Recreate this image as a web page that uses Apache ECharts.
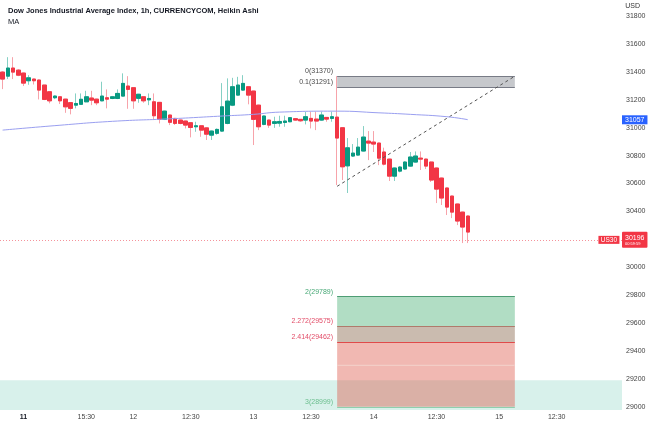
<!DOCTYPE html>
<html><head><meta charset="utf-8">
<script src="https://cdn.jsdelivr.net/npm/echarts@6/dist/echarts.min.js"></script>
<style>html,body{margin:0;padding:0;background:#fff}#c{width:650px;height:424px}</style>
</head><body><div id="c"></div><script>
// ---- data ----
const slotCount = 119;
const tickSlots = [4, 16, 25, 36, 48, 59, 71, 83, 95, 106];
const tickTexts = ['11', '15:30', '12', '12:30', '13', '12:30', '14', '12:30', '15', '12:30'];
const yTicks = [29000, 29200, 29400, 29600, 29800, 30000, 30400, 30600, 30800, 31000, 31200, 31400, 31600, 31800];
const yMin = 28976, yMax = 31916;

const opens = [31399,31370,31428,31413,31392,31337,31349,31342,31306,31258,31215,31222,31205,31180,31162,31168,31186,31213,31205,31193,31215,31210,31210,31227,31299,31287,31211,31222,31200,31186,31182,31060,31091,31067,31055,31048,31036,31007,31014,30999,30947,30960,30976,31031,31162,31234,31270,31294,31263,31162,31024,31055,31031,31033,31038,31043,31065,31060,31055,31067,31062,31055,31074,31067,31076,31000,30727,30797,30804,30833,30904,30897,30890,30826,30775,30653,30689,30704,30725,30754,30782,30775,30754,30711,30639,30568,30510,30453,30395,30367];
const closes = [31349,31428,31399,31377,31320,31358,31337,31270,31203,31193,31227,31193,31150,31139,31174,31204,31222,31198,31179,31227,31205,31222,31246,31318,31275,31193,31240,31193,31210,31086,31060,31119,31039,31031,31031,31019,31002,31014,30983,30954,30976,30988,31150,31191,31294,31306,31318,31234,31060,31007,31084,31019,31043,31045,31048,31072,31055,31050,31079,31048,31048,31091,31062,31079,30926,30720,30856,30818,30861,30933,30890,30883,30782,30739,30653,30711,30718,30754,30790,30797,30775,30725,30625,30560,30496,30431,30395,30331,30288,30252];
const lows = [31277,31349,31349,31370,31299,31308,31310,31203,31198,31175,31205,31170,31107,31096,31139,31165,31183,31162,31162,31190,31139,31205,31205,31224,31136,31136,31179,31179,31162,31055,31031,31055,31019,31020,31025,30995,30931,30971,30935,30912,30912,30950,30970,31025,31155,31230,31265,31168,30876,30983,31018,30999,30999,31007,31007,31040,31050,31043,31024,30995,30983,31050,31043,31043,30589,30625,30532,30790,30800,30830,30768,30826,30732,30730,30618,30618,30680,30700,30720,30750,30697,30704,30611,30460,30446,30374,30352,30302,30173,30173];
const highs = [31405,31506,31506,31420,31395,31377,31352,31345,31306,31260,31232,31225,31207,31182,31246,31246,31265,31265,31208,31330,31275,31228,31275,31390,31370,31290,31243,31225,31246,31246,31185,31122,31094,31070,31058,31050,31038,31043,31016,31002,30980,30995,31320,31354,31358,31365,31377,31297,31265,31165,31087,31058,31079,31086,31086,31076,31068,31062,31115,31115,31115,31115,31076,31115,31370,31003,30926,30883,30926,31012,30976,30976,30893,30857,30778,30715,30725,30760,30826,30830,30830,30778,30757,30714,30642,30570,30512,30455,30398,30370];

// moving average readings (null = not read at that candle)
const maIdx = [0, 10, 21, 32, 42, 48, 53, 64, 72, 78, 85, 89];
const maVal = [30983, 31015, 31046, 31064, 31084, 31096, 31112, 31119, 31107, 31096, 31079, 31058];

const lastPrice = 30196;
const maLast = 31057;
const zoneTop = 29190;

const fibFrom = 64, fibTo = 98;
const fibLow = 30580, fibHigh = 31370;
const fibPrices = [31370, 31291, 29789, 29575, 29462, 29300, 28999];
const fibTexts = ['0(31370)', '0.1(31291)', '2(29789)', '2.272(29575)', '2.414(29462)', '', '3(28999)'];

// ---- build ----
const FONT = 'Liberation Sans, Arial, sans-serif';
const categories = Array.from({length: slotCount}, (_, i) => 's' + i);
const tickMap = {};
tickSlots.forEach((s, k) => tickMap[s] = tickTexts[k]);

const candleData = opens.map((o, i) => [o, closes[i], lows[i], highs[i]]);
const bodyData = opens.map((o, i) => [o, closes[i], Math.min(o, closes[i]), Math.max(o, closes[i])]);
const maData = new Array(opens.length).fill(null);
maIdx.forEach((ix, k) => maData[ix] = maVal[k]);

const fibLineColors = ['#787b86', '#787b86', '#4e9d74', '#b07a6c', '#e04a4a', '#f3cdc6', '#8fcfae'];
const fibLabelColors = ['#4a4a4a', '#4a4a4a', '#47a876', '#e24d68', '#e24d68', '#e24d68', '#6cbf8f'];
const fibFills = ['rgba(120,123,134,0.42)', null, 'rgba(70,175,115,0.42)', 'rgba(150,120,95,0.5)', 'rgba(222,85,72,0.42)', 'rgba(222,85,72,0.42)'];

const fibAreas = [];
for (let i = 0; i < fibPrices.length - 1; i++) {
  if (!fibFills[i]) continue;
  fibAreas.push([{coord: [fibFrom, fibPrices[i]], itemStyle: {color: fibFills[i]}}, {coord: [fibTo, fibPrices[i + 1]]}]);
}
const fibLines = fibPrices.map((p, i) => [
  {coord: [fibFrom, p], lineStyle: {color: fibLineColors[i], width: 1, type: 'solid'}},
  {coord: [fibTo, p]}
]);
fibLines.push([
  {coord: [fibFrom, fibLow], lineStyle: {color: '#555', width: 1, type: [3, 3]}},
  {coord: [fibTo, fibHigh]}
]);
fibLines.push([
  {yAxis: zoneTop, lineStyle: {color: '#6cc2ae', width: 1, type: 'solid'}, label: {show: false}},
  {yAxis: zoneTop, x: '100%'}
]);
const fibLabelPoints = fibPrices.map((p, i) => ({
  coord: [fibFrom, p], symbol: 'rect', symbolSize: 0.1,
  label: {show: !!fibTexts[i], formatter: fibTexts[i], position: 'left', distance: 4, offset: [0, -5],
    color: fibLabelColors[i], fontSize: 7, fontFamily: FONT}
}));

const chart = echarts.init(document.getElementById('c'), null, {renderer: 'canvas'});
chart.setOption({
  animation: false,
  backgroundColor: '#ffffff',
  title: {
    text: 'Dow Jones Industrial Average Index, 1h, CURRENCYCOM, Heikin Ashi',
    subtext: 'MA',
    left: 3, top: 2, itemGap: 3,
    textStyle: {fontSize: 7.5, fontWeight: 'bold', color: '#131722', fontFamily: FONT},
    subtextStyle: {fontSize: 7.5, color: '#131722', fontFamily: FONT}
  },
  graphic: [{type: 'text', right: 10, top: 3, style: {text: 'USD', fontSize: 7, fill: '#333', fontFamily: FONT}}],
  grid: {left: 0, right: 28, top: 0, bottom: 14},
  xAxis: {
    type: 'category', data: categories, boundaryGap: true,
    axisLine: {show: false}, axisTick: {show: false}, splitLine: {show: false},
    axisLabel: {
      interval: (i) => tickMap[i] !== undefined,
      formatter: (v, i) => (i === tickSlots[0] ? '{b|' + tickMap[i] + '}' : (tickMap[i] || '')),
      fontSize: 7, color: '#444', margin: 4, fontFamily: FONT,
      rich: {b: {fontSize: 7, fontWeight: 'bold', color: '#131722', fontFamily: FONT}}
    }
  },
  yAxis: {
    type: 'value', position: 'right', min: yMin, max: yMax,
    axisLine: {show: false}, axisTick: {show: false}, splitLine: {show: false},
    axisLabel: {customValues: yTicks, formatter: (v) => String(v), fontSize: 7, color: '#444', margin: 4, fontFamily: FONT}
  },
  series: [
    {
      name: 'zones', type: 'line', data: new Array(opens.length).fill(null), showSymbol: false, silent: true, z: 1,
      markArea: {silent: true, data: [
        [{yAxis: yMin, itemStyle: {color: '#d8f1eb'}}, {yAxis: zoneTop}]
      ].concat(fibAreas)},
      markLine: {silent: true, symbol: 'none', label: {show: false}, data: fibLines},
      markPoint: {silent: true, data: fibLabelPoints}
    },
    {
      name: 'wicks', type: 'candlestick', data: candleData, barWidth: '78%', z: 3,
      itemStyle: {color: '#86d0c4', color0: '#f7a3aa', borderColor: '#86d0c4', borderColor0: '#f7a3aa', borderWidth: 1}
    },
    {
      name: 'bodies', type: 'candlestick', data: bodyData, barWidth: '78%', z: 4,
      itemStyle: {color: '#089981', color0: '#f23645', borderColor: '#089981', borderColor0: '#f23645', borderWidth: 1},
      markLine: {
        silent: true, symbol: 'none',
        data: [{yAxis: lastPrice, lineStyle: {color: '#f5939b', type: [1, 2], width: 1},
          label: {show: true, position: 'end', distance: 0, formatter: '{a|' + lastPrice + '}\n{t|00:59:59}',
            backgroundColor: '#f23645', padding: [2, 3, 1, 3], borderRadius: 1,
            rich: {a: {color: '#fff', fontSize: 7, fontFamily: FONT, lineHeight: 8}, t: {color: '#fff', fontSize: 4, fontFamily: FONT, lineHeight: 5}}}}]
      },
      markPoint: {
        silent: true,
        data: [{coord: [116, lastPrice], symbol: 'rect', symbolSize: [21, 8], itemStyle: {color: '#f23645'},
          label: {show: true, position: 'inside', formatter: 'US30', color: '#fff', fontSize: 6.5, fontFamily: FONT}}]
      }
    },
    {
      name: 'MA', type: 'line', data: maData, connectNulls: true, smooth: true, showSymbol: false, z: 5,
      lineStyle: {color: '#9a9ff0', width: 1},
      markLine: {
        silent: true, symbol: 'none',
        data: [{yAxis: maLast, lineStyle: {color: 'rgba(0,0,0,0)', width: 1},
          label: {show: true, position: 'end', distance: 0, formatter: String(maLast), color: '#fff',
            backgroundColor: '#2962ff', padding: [1, 3, 1, 3], fontSize: 7, fontFamily: FONT}}]
      }
    }
  ]
});
</script></body></html>
